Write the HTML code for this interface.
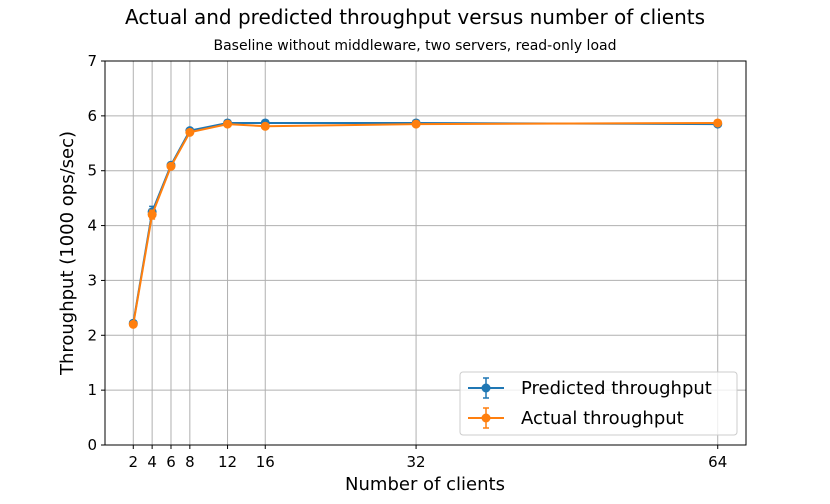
<!DOCTYPE html>
<html><head><meta charset="utf-8"><style>
body{margin:0;background:#fff;font-family:"DejaVu Sans","Liberation Sans",sans-serif}
</style></head><body>
<svg id="c" width="830" height="500" xmlns="http://www.w3.org/2000/svg"></svg>
<script>
const categories=[2,4,6,8,12,16,32,64];
const predicted=[2.22,4.25,5.10,5.73,5.87,5.87,5.87,5.85];
const predictedErr=[0.04,0.1,0.05,0.04,0.03,0.03,0.03,0.03];
const actual=[2.20,4.20,5.08,5.70,5.85,5.81,5.85,5.87];
const actualErr=[0.03,0.08,0.04,0.03,0.03,0.03,0.03,0.03];
const yTicks=[0,1,2,3,4,5,6,7];
const L=105,R=746,T=61,B=445;
const xs=v=>L+(v+1)/68*(R-L);
const ys=v=>B-v/7*(B-T);
const svg=document.getElementById('c');
const NS='http://www.w3.org/2000/svg';
function mk(t,a,txt){const e=document.createElementNS(NS,t);for(const k in a)e.setAttribute(k,a[k]);if(txt!==undefined)e.textContent=txt;svg.appendChild(e);return e;}
let e;
yTicks.forEach(v=>{
e=mk('line',{x1:L,x2:R,y1:ys(v),y2:ys(v),stroke:'#b0b0b0','stroke-width':1});


e=mk('line',{x1:L-4,x2:L,y1:ys(v),y2:ys(v),stroke:'#000'});
e=mk('text',{x:L-8,y:ys(v)+5,'text-anchor':'end','font-size':15},String(v));


});
categories.forEach(v=>{
e=mk('line',{x1:xs(v),x2:xs(v),y1:T,y2:B,stroke:'#b0b0b0','stroke-width':1});


mk('line',{x1:xs(v),x2:xs(v),y1:B,y2:B+4,stroke:'#000'});
e=mk('text',{x:xs(v),y:B+22,'text-anchor':'middle','font-size':15},String(v));


});
e=mk('rect',{x:L,y:T,width:R-L,height:B-T,fill:'none',stroke:'#000','stroke-width':1});


function series(vals,errs,col,name){
const pts=categories.map((c,i)=>xs(c)+','+ys(vals[i])).join(' ');
e=mk('polyline',{points:pts,fill:'none',stroke:col,'stroke-width':2});


categories.forEach((c,i)=>{
const x=xs(c),y1=ys(vals[i]-errs[i]),y2=ys(vals[i]+errs[i]);
mk('line',{x1:x,x2:x,y1:y1,y2:y2,stroke:col,'stroke-width':1.5});
mk('line',{x1:x-3,x2:x+3,y1:y1,y2:y1,stroke:col,'stroke-width':1.5});
mk('line',{x1:x-3,x2:x+3,y1:y2,y2:y2,stroke:col,'stroke-width':1.5});
e=mk('circle',{cx:x,cy:ys(vals[i]),r:4.5,fill:col});


});
}
series(predicted,predictedErr,'#1f77b4','predicted');
series(actual,actualErr,'#ff7f0e','actual');
e=mk('text',{x:415,y:24,'text-anchor':'middle','font-size':20},'Actual and predicted throughput versus number of clients');


e=mk('text',{x:415,y:50,'text-anchor':'middle','font-size':14},'Baseline without middleware, two servers, read-only load');


e=mk('text',{x:425,y:490,'text-anchor':'middle','font-size':18},'Number of clients');


e=mk('text',{x:0,y:0,'text-anchor':'middle','font-size':18,transform:'translate(73,253) rotate(-90)'},'Throughput (1000 ops/sec)');


e=mk('rect',{x:460,y:372,width:277,height:63,rx:3,fill:'#fff','fill-opacity':0.8,stroke:'#ccc'});


[['Predicted throughput','#1f77b4',388],['Actual throughput','#ff7f0e',418]].forEach(([t,c,y])=>{
mk('line',{x1:468,x2:504,y1:y,y2:y,stroke:c,'stroke-width':2});
mk('line',{x1:486,x2:486,y1:y-10,y2:y+10,stroke:c,'stroke-width':1.5});
mk('line',{x1:483,x2:489,y1:y-10,y2:y-10,stroke:c,'stroke-width':1.5});
mk('line',{x1:483,x2:489,y1:y+10,y2:y+10,stroke:c,'stroke-width':1.5});
mk('circle',{cx:486,cy:y,r:4.5,fill:c});
e=mk('text',{x:521,y:y+6,'font-size':18},t);


});
</script>
</body></html>
